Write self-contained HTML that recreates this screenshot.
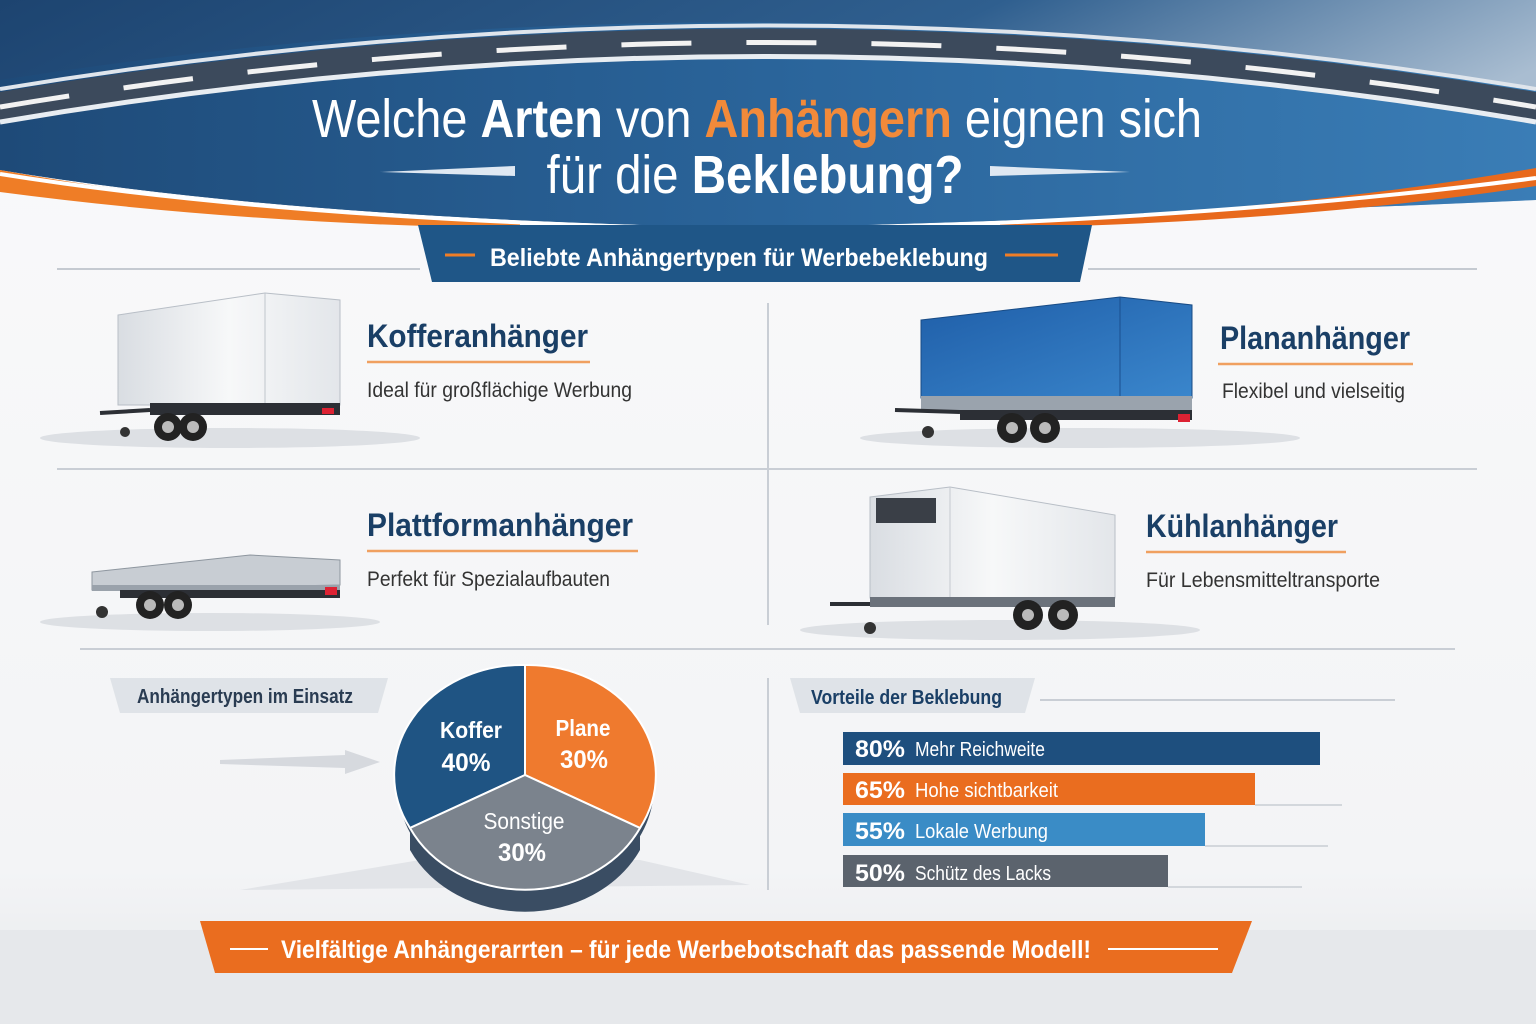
<!DOCTYPE html>
<html><head><meta charset="utf-8"><style>
html,body{margin:0;padding:0;width:1536px;height:1024px;overflow:hidden;background:#f4f5f7}
svg{display:block}
text{font-family:"Liberation Sans Narrow","Liberation Sans",sans-serif}
</style></head><body>
<svg width="1536" height="1024" viewBox="0 0 1536 1024" xmlns="http://www.w3.org/2000/svg">
<defs>
<linearGradient id="sky" x1="0" y1="0" x2="1" y2="0.3"><stop offset="0" stop-color="#1d4470"/><stop offset="0.6" stop-color="#2f5f8f"/><stop offset="1" stop-color="#a9bdd1"/></linearGradient>
<linearGradient id="band" x1="0" y1="0" x2="1" y2="0"><stop offset="0" stop-color="#1e4a78"/><stop offset="0.5" stop-color="#2a649a"/><stop offset="1" stop-color="#3a7db6"/></linearGradient>
<linearGradient id="bg" x1="0" y1="0" x2="0" y2="1"><stop offset="0" stop-color="#fafafb"/><stop offset="0.85" stop-color="#f3f4f6"/><stop offset="1" stop-color="#e6e8eb"/></linearGradient>
<linearGradient id="box" x1="0" y1="0" x2="1" y2="0"><stop offset="0" stop-color="#d9dde2"/><stop offset="0.5" stop-color="#f7f8f9"/><stop offset="1" stop-color="#e3e6ea"/></linearGradient>
<linearGradient id="tarp" x1="0" y1="0" x2="1" y2="1"><stop offset="0" stop-color="#1f5ea8"/><stop offset="1" stop-color="#3a86cc"/></linearGradient>
</defs>
<rect width="1536" height="1024" fill="url(#bg)"/>
<rect y="930" width="1536" height="94" fill="#e6e8eb"/>
<path d="M0 0 H1536 V200 Q1200 215 768 228 Q300 220 0 170 Z" fill="url(#sky)"/>
<path d="M0 80 Q768 -40 1536 90 L1536 200 Q1200 215 768 228 Q300 220 0 170 Z" fill="url(#band)"/>
<path d="M0 92 Q768 -35 1536 92 L1536 122 Q768 -9 0 122 Z" fill="#3c4a5c"/>
<path d="M0 89 Q768 -38 1536 89" fill="none" stroke="#dfe5ec" stroke-width="4"/>
<path d="M0 122 Q768 -9 1536 122" fill="none" stroke="#e8edf2" stroke-width="5"/>
<path d="M0 107 Q768 -22 1536 107" fill="none" stroke="#f2f2f2" stroke-width="5" stroke-dasharray="70 55"/>
<path d="M0 170 Q250 215 520 222 L520 228 Q250 225 0 192 Z" fill="#ef7d26"/>
<path d="M1000 222 Q1300 210 1536 168 L1536 186 Q1300 222 1000 228 Z" fill="#e8691c"/>
<path d="M0 174 Q300 222 768 230 Q1200 222 1536 178" fill="none" stroke="#fff" stroke-width="4"/>
<text x="757" y="137" text-anchor="middle" font-size="54" fill="#fff" textLength="890" lengthAdjust="spacingAndGlyphs"><tspan>Welche </tspan><tspan font-weight="bold">Arten</tspan><tspan> von </tspan><tspan font-weight="bold" fill="#f28a3a">Anhängern</tspan><tspan> eignen sich</tspan></text>
<text x="755" y="193" text-anchor="middle" font-size="54" fill="#fff" textLength="417" lengthAdjust="spacingAndGlyphs"><tspan>für die </tspan><tspan font-weight="bold">Beklebung?</tspan></text>
<path d="M380 172 L515 166 L515 176 Z" fill="#dfe8f2"/>
<path d="M990 166 L1130 172 L990 176 Z" fill="#dfe8f2"/>
<path d="M418 225 H1092 L1080 282 H432 Z" fill="#1f5687"/>
<line x1="445" y1="255" x2="475" y2="255" stroke="#ef7d26" stroke-width="3"/>
<line x1="1005" y1="255" x2="1058" y2="255" stroke="#ef7d26" stroke-width="3"/>
<text x="739" y="266" text-anchor="middle" font-size="25" font-weight="bold" fill="#fff" textLength="498" lengthAdjust="spacingAndGlyphs">Beliebte Anhängertypen für Werbebeklebung</text>
<line x1="57" y1="269" x2="420" y2="269" stroke="#c5cad1" stroke-width="2"/>
<line x1="1088" y1="269" x2="1477" y2="269" stroke="#c5cad1" stroke-width="2"/>
<line x1="57" y1="469" x2="1477" y2="469" stroke="#c9ced5" stroke-width="2"/>
<line x1="768" y1="303" x2="768" y2="625" stroke="#c9ced5" stroke-width="2"/>
<line x1="80" y1="649" x2="1455" y2="649" stroke="#c9ced5" stroke-width="2"/>
<line x1="768" y1="678" x2="768" y2="890" stroke="#c9ced5" stroke-width="2"/>
<ellipse cx="230" cy="438" rx="190" ry="10" fill="#dde0e4"/>
<path d="M118 315 L265 293 L340 300 L340 405 L118 405 Z" fill="url(#box)" stroke="#b8bec6"/>
<line x1="265" y1="293" x2="265" y2="405" stroke="#c0c5cc"/>
<rect x="150" y="403" width="190" height="12" fill="#2c2f35"/>
<line x1="100" y1="413" x2="150" y2="410" stroke="#2c2f35" stroke-width="4"/>
<circle cx="168" cy="427" r="14" fill="#222"/><circle cx="168" cy="427" r="6" fill="#bbb"/>
<circle cx="193" cy="427" r="14" fill="#222"/><circle cx="193" cy="427" r="6" fill="#bbb"/>
<circle cx="125" cy="432" r="5" fill="#333"/>
<rect x="322" y="408" width="12" height="6" fill="#d23"/>
<ellipse cx="1080" cy="438" rx="220" ry="10" fill="#dde0e4"/>
<path d="M921 320 L1120 297 L1192 305 L1192 398 L921 398 Z" fill="url(#tarp)" stroke="#184b85"/>
<line x1="1120" y1="297" x2="1120" y2="398" stroke="#1a4f8f"/>
<rect x="921" y="396" width="271" height="16" fill="#9aa3ad"/>
<rect x="960" y="410" width="232" height="10" fill="#2c2f35"/>
<line x1="895" y1="410" x2="960" y2="412" stroke="#2c2f35" stroke-width="4"/>
<circle cx="1012" cy="428" r="15" fill="#222"/><circle cx="1012" cy="428" r="6" fill="#bbb"/>
<circle cx="1045" cy="428" r="15" fill="#222"/><circle cx="1045" cy="428" r="6" fill="#bbb"/>
<circle cx="928" cy="432" r="6" fill="#333"/>
<rect x="1178" y="414" width="12" height="8" fill="#d23"/>
<ellipse cx="210" cy="622" rx="170" ry="9" fill="#dde0e4"/>
<path d="M92 572 L250 555 L340 560 L340 585 L92 590 Z" fill="#c8cdd3" stroke="#8e969f"/>
<rect x="92" y="585" width="248" height="6" fill="#9aa2ab"/>
<rect x="120" y="590" width="220" height="8" fill="#2c2f35"/>
<circle cx="150" cy="605" r="14" fill="#222"/><circle cx="150" cy="605" r="6" fill="#bbb"/>
<circle cx="178" cy="605" r="14" fill="#222"/><circle cx="178" cy="605" r="6" fill="#bbb"/>
<circle cx="102" cy="612" r="6" fill="#333"/>
<rect x="325" y="587" width="12" height="8" fill="#d23"/>
<ellipse cx="1000" cy="630" rx="200" ry="10" fill="#dde0e4"/>
<path d="M870 497 L950 487 L1115 515 L1115 598 L870 598 Z" fill="url(#box)" stroke="#b8bec6"/>
<rect x="876" y="498" width="60" height="25" fill="#3a3f47"/>
<line x1="950" y1="487" x2="950" y2="598" stroke="#c5cad0"/>
<rect x="870" y="597" width="245" height="10" fill="#6b727b"/>
<line x1="830" y1="604" x2="870" y2="604" stroke="#2c2f35" stroke-width="4"/>
<circle cx="1028" cy="615" r="15" fill="#222"/><circle cx="1028" cy="615" r="6" fill="#bbb"/>
<circle cx="1063" cy="615" r="15" fill="#222"/><circle cx="1063" cy="615" r="6" fill="#bbb"/>
<circle cx="870" cy="628" r="6" fill="#333"/>
<g fill="#1a3f66" font-weight="bold" font-size="32">
<text x="367" y="347" textLength="221" lengthAdjust="spacingAndGlyphs">Kofferanhänger</text>
<text x="1220" y="349" textLength="190" lengthAdjust="spacingAndGlyphs">Plananhänger</text>
<text x="367" y="536" textLength="266" lengthAdjust="spacingAndGlyphs">Plattformanhänger</text>
<text x="1146" y="537" textLength="192" lengthAdjust="spacingAndGlyphs">Kühlanhänger</text>
</g>
<g stroke="#f0a060" stroke-width="2.5">
<line x1="367" y1="362" x2="590" y2="362"/>
<line x1="1218" y1="364" x2="1413" y2="364"/>
<line x1="367" y1="551" x2="638" y2="551"/>
<line x1="1146" y1="552" x2="1346" y2="552"/>
</g>
<g fill="#333" font-size="21">
<text x="367" y="397" textLength="265" lengthAdjust="spacingAndGlyphs">Ideal für großflächige Werbung</text>
<text x="1222" y="398" textLength="183" lengthAdjust="spacingAndGlyphs">Flexibel und vielseitig</text>
<text x="367" y="586" textLength="243" lengthAdjust="spacingAndGlyphs">Perfekt für Spezialaufbauten</text>
<text x="1146" y="587" textLength="234" lengthAdjust="spacingAndGlyphs">Für Lebensmitteltransporte</text>
</g>
<path d="M110 678 H388 L378 713 H120 Z" fill="#dfe3e8"/>
<text x="137" y="703" font-size="20" font-weight="bold" fill="#2a3c52" textLength="216" lengthAdjust="spacingAndGlyphs">Anhängertypen im Einsatz</text>
<path d="M790 678 H1035 L1025 713 H800 Z" fill="#dfe3e8"/>
<text x="811" y="704" font-size="20" font-weight="bold" fill="#1a3f66" textLength="191" lengthAdjust="spacingAndGlyphs">Vorteile der Beklebung</text>
<line x1="1040" y1="700" x2="1395" y2="700" stroke="#c9ced5" stroke-width="2"/>
<path d="M220 760 L345 755 L345 750 L380 762 L345 774 L345 768 L220 764 Z" fill="#d6d9de"/>
<path d="M240 890 L420 860 L640 860 L750 885 Z" fill="#e2e4e8"/>
<path d="M399 775 A128 110 0 0 0 653 775 L653 800 A128 110 0 0 1 399 800 Z" fill="#3a4d63"/>
<path d="M410 828 L410 850 A128 110 0 0 0 640 850 L640 828 Z" fill="#3a4d63"/>
<path d="M525 775 L525 665 A128 110 0 0 0 410 828 Z" fill="#1f5483" stroke="#fff" stroke-width="2"/>
<path d="M525 775 L525 665 A128 110 0 0 1 640 828 Z" fill="#ef7a2e" stroke="#fff" stroke-width="2"/>
<path d="M525 775 L410 828 A128 110 0 0 0 640 828 Z" fill="#7b838d" stroke="#fff" stroke-width="2"/>
<g fill="#fff" font-weight="bold" text-anchor="middle">
<text x="471" y="738" font-size="23" textLength="62" lengthAdjust="spacingAndGlyphs">Koffer</text><text x="466" y="771" font-size="25" textLength="49" lengthAdjust="spacingAndGlyphs">40%</text>
<text x="583" y="736" font-size="23" textLength="55" lengthAdjust="spacingAndGlyphs">Plane</text><text x="584" y="768" font-size="25" textLength="48" lengthAdjust="spacingAndGlyphs">30%</text>
<text x="524" y="829" font-size="23" font-weight="normal" textLength="81" lengthAdjust="spacingAndGlyphs">Sonstige</text><text x="522" y="861" font-size="25" textLength="48" lengthAdjust="spacingAndGlyphs">30%</text>
</g>
<g stroke="#d3d7dc" stroke-width="2"><line x1="1255" y1="805" x2="1342" y2="805"/><line x1="1205" y1="846" x2="1328" y2="846"/><line x1="1168" y1="887" x2="1302" y2="887"/></g>
<rect x="843" y="732" width="477" height="33" fill="#1e4f7e"/>
<rect x="843" y="773" width="412" height="32" fill="#ea6d1f"/>
<rect x="843" y="813" width="362" height="33" fill="#3a8cc6"/>
<rect x="843" y="855" width="325" height="32" fill="#5b636d"/>
<g fill="#fff">
<text x="855" y="757" font-size="24" font-weight="bold" textLength="50" lengthAdjust="spacingAndGlyphs">80%</text><text x="915" y="756" font-size="20" textLength="130" lengthAdjust="spacingAndGlyphs">Mehr Reichweite</text>
<text x="855" y="798" font-size="24" font-weight="bold" textLength="50" lengthAdjust="spacingAndGlyphs">65%</text><text x="915" y="797" font-size="20" textLength="143" lengthAdjust="spacingAndGlyphs">Hohe sichtbarkeit</text>
<text x="855" y="839" font-size="24" font-weight="bold" textLength="50" lengthAdjust="spacingAndGlyphs">55%</text><text x="915" y="838" font-size="20" textLength="133" lengthAdjust="spacingAndGlyphs">Lokale Werbung</text>
<text x="855" y="881" font-size="24" font-weight="bold" textLength="50" lengthAdjust="spacingAndGlyphs">50%</text><text x="915" y="880" font-size="20" textLength="136" lengthAdjust="spacingAndGlyphs">Schütz des Lacks</text>
</g>
<path d="M200 921 H1252 L1232 973 H215 Z" fill="#ea6d1f"/>
<line x1="230" y1="949" x2="268" y2="949" stroke="#fff" stroke-width="2"/>
<line x1="1108" y1="949" x2="1218" y2="949" stroke="#fff" stroke-width="2"/>
<text x="281" y="958" font-size="25" font-weight="bold" fill="#fff" textLength="810" lengthAdjust="spacingAndGlyphs">Vielfältige Anhängerarrten – für jede Werbebotschaft das passende Modell!</text>
</svg>
</body></html>
